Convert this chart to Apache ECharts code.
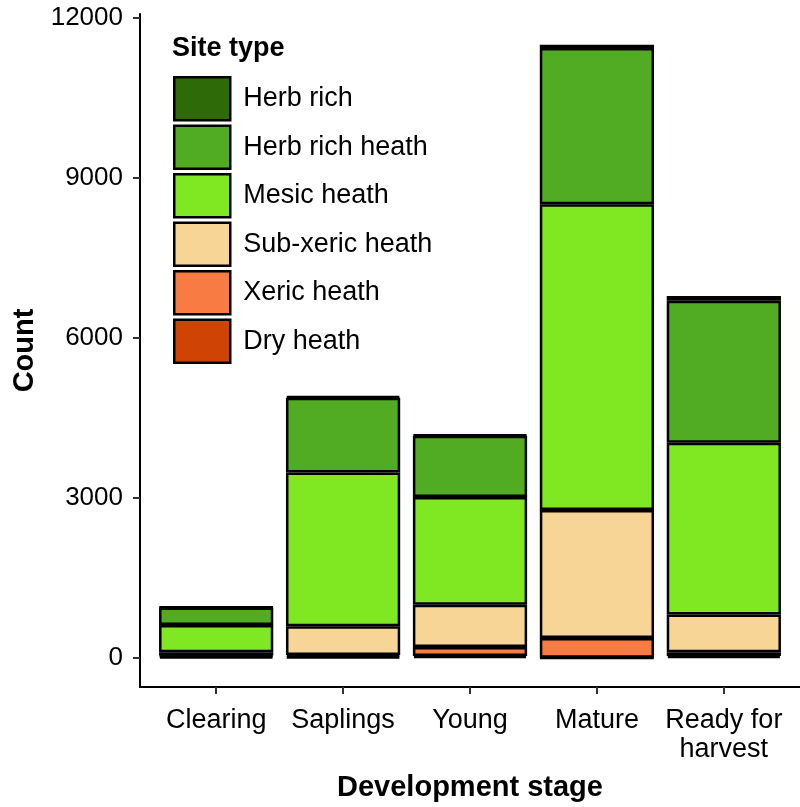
<!DOCTYPE html>
<html>
<head>
<meta charset="utf-8">
<script src="https://cdn.jsdelivr.net/npm/echarts@6/dist/echarts.min.js"></script>
<style>html,body{margin:0;padding:0;background:#fff}#c{width:800px;height:807px}</style>
</head>
<body>
<div id="c"></div>
<script>
const categories = ['Clearing', 'Saplings', 'Young', 'Mature', 'Ready for\nharvest'];
const siteTypes = ['Dry heath', 'Xeric heath', 'Sub-xeric heath', 'Mesic heath', 'Herb rich heath', 'Herb rich'];
const dryHeath      = [30, 30, 40, 10, 40];
const xericHeath    = [20, 30, 170, 370, 70];
const subXericHeath = [60, 540, 790, 2400, 710];
const mesicHeath    = [510, 2880, 2020, 5730, 3220];
const herbRichHeath = [330, 1400, 1150, 2930, 2660];
const herbRich      = [10, 30, 20, 60, 90];
const yTicks = [0, 3000, 6000, 9000, 12000];

const seriesValues = [dryHeath, xericHeath, subXericHeath, mesicHeath, herbRichHeath, herbRich];
const colors = ['#cf4305', '#f77b43', '#f7d597', '#80e823', '#52ac23', '#2f6a09'];

const font = 'Liberation Sans, Arial, sans-serif';
const yMin = -540, yMax = 12075;
const chart = echarts.init(document.getElementById('c'), null, {renderer: 'canvas'});
chart.setOption({
  animation: false,
  backgroundColor: '#ffffff',
  title: {
    text: 'Site type', left: 167, top: 30,
    textStyle: {fontFamily: font, fontWeight: 'bold', fontSize: 27, color: '#000'}
  },
  legend: {
    orient: 'vertical', left: 168, top: 71,
    data: siteTypes.slice().reverse(),
    itemWidth: 56, itemHeight: 43, itemGap: 3,
    icon: 'rect',
    itemStyle: {borderColor: '#000', borderWidth: 2.5},
    textStyle: {fontFamily: font, fontSize: 27, color: '#000', padding: [0, 0, 0, 8]}
  },
  grid: [
    {left: 152.7, right: 12.7, top: 14, bottom: 120, containLabel: false},
    {left: 140, right: 0, top: 14, bottom: 120, containLabel: false}
  ],
  xAxis: [
    {
      type: 'category', gridIndex: 0, data: categories,
      name: 'Development stage', nameLocation: 'middle', nameGap: 86,
      nameTextStyle: {fontFamily: font, fontWeight: 'bold', fontSize: 29, color: '#000'},
      axisLine: {show: false, onZero: false},
      axisTick: {show: true, alignWithLabel: true, length: 7, lineStyle: {color: '#333', width: 2}},
      axisLabel: {margin: 19, fontFamily: font, fontSize: 27, color: '#000', lineHeight: 29, interval: 0}
    },
    {
      type: 'value', gridIndex: 1, min: 0, max: 1,
      axisLine: {show: true, onZero: false, lineStyle: {color: '#000', width: 2}},
      axisTick: {show: false}, axisLabel: {show: false}, splitLine: {show: false}
    }
  ],
  yAxis: [
    {type: 'value', gridIndex: 0, min: yMin, max: yMax, show: false, splitLine: {show: false}},
    {
      type: 'value', gridIndex: 1, min: yMin, max: yMax,
      name: 'Count', nameLocation: 'middle', nameGap: 90,
      nameTextStyle: {fontFamily: font, fontWeight: 'bold', fontSize: 29, color: '#000'},
      splitLine: {show: false},
      axisLine: {show: true, onZero: false, lineStyle: {color: '#000', width: 2}},
      axisTick: {show: true, customValues: yTicks, length: 7, lineStyle: {color: '#333', width: 2}},
      axisLabel: {customValues: yTicks, margin: 17, formatter: v => String(v),
                  fontFamily: font, fontSize: 26, color: '#000'}
    }
  ],
  series: siteTypes.map((name, k) => ({
    name: name, type: 'bar', stack: 'total', xAxisIndex: 0, yAxisIndex: 0,
    barCategoryGap: '10%',
    itemStyle: {color: colors[k], borderColor: '#000', borderWidth: 2.5},
    data: seriesValues[k]
  }))
});
</script>
</body>
</html>
